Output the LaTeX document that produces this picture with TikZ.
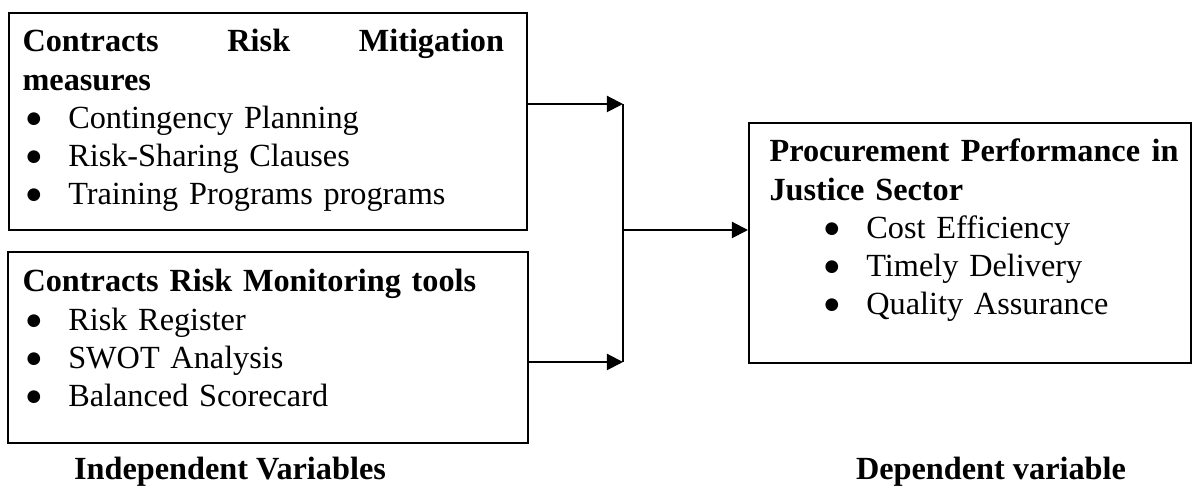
\documentclass[tikz,border=0pt]{standalone}
\usepackage{fontspec}
\setmainfont{Liberation Serif}
\newfontfamily\dotfont{DejaVu Sans}
\usetikzlibrary{arrows.meta,positioning}
\tikzset{%
	varbox/.style  = {draw, rectangle, line width=0.75pt, inner sep=0pt, anchor=north west},
	vartext/.style = {anchor=base west, inner sep=0pt, align=left, font=\fontsize{12}{14.2}\selectfont},
	caption/.style = {anchor=base, inner sep=0pt, font=\bfseries\fontsize{12}{14.2}\selectfont},
	arrow/.style   = {line width=0.75pt, -{Triangle[length=6pt,width=6pt]}},
}
\newcommand{\bigbullet}{\raisebox{1.9pt}{\dotfont\fontsize{6.2}{6}\selectfont ●}}
\newcommand{\bulletitem}[2][0pt]{\hspace*{#1}\makebox[17pt][l]{\hspace{1.5pt}\bigbullet}#2}

\begin{document}
\begin{tikzpicture}[x=0.3717pt, y=-0.3717pt]
	\useasboundingbox (0,0) rectangle (1192,490);
	
	% boxes
	\node[varbox, minimum width=192.5pt, minimum height=80.7pt] (mitigbox) at (8,12) {};
	\node[varbox, minimum width=193.3pt, minimum height=71pt] (monitbox) at (7,251) {};
	\node[varbox, minimum width=164.3pt, minimum height=89.2pt] (perfbox) at (748,122) {};
	
	% box texts
	\node[vartext, text width=179pt] (mitigtxt) at ([shift={(14,40)}]mitigbox.north west)
	{\hbox to 179pt{\bfseries Contracts\hfill Risk\hfill Mitigation}\\
	 \textbf{measures}\\
	 \bulletitem{Contingency Planning}\\
	 \bulletitem{Risk-Sharing Clauses}\\
	 \bulletitem{Training Programs programs}};
	
	\node[vartext, text width=180pt] (monittxt) at ([shift={(15,41)}]monitbox.north west)
	{\textbf{Contracts Risk Monitoring tools}\\
	 \bulletitem{Risk Register}\\
	 \bulletitem{SWOT Analysis}\\
	 \bulletitem{Balanced Scorecard}};
	
	\node[vartext, text width=152pt] (perftxt) at ([shift={(21,40)}]perfbox.north west)
	{\hbox to 152pt{\bfseries Procurement\hfill Performance\hfill in}\\
	 \textbf{Justice Sector}\\
	 \bulletitem[19pt]{Cost Efficiency}\\
	 \bulletitem[19pt]{Timely Delivery}\\
	 \bulletitem[19pt]{Quality Assurance}};
	
	% connectors
	\coordinate (jtop) at (623,104);
	\coordinate (jmid) at (623,230);
	\coordinate (jbot) at (623,362);
	\draw[arrow] (mitigbox.east |- jtop) -- (jtop);
	\draw[arrow] (monitbox.east |- jbot) -- (jbot);
	\draw[line width=0.75pt] (jtop) -- (jbot);
	\draw[arrow] (jmid) -- (perfbox.west |- jmid);
	
	% captions
	\node[caption] (indeplbl) at (230,480) {Independent Variables};
	\node[caption] (deplbl) at (991,480) {Dependent variable};
\end{tikzpicture}
\end{document}
